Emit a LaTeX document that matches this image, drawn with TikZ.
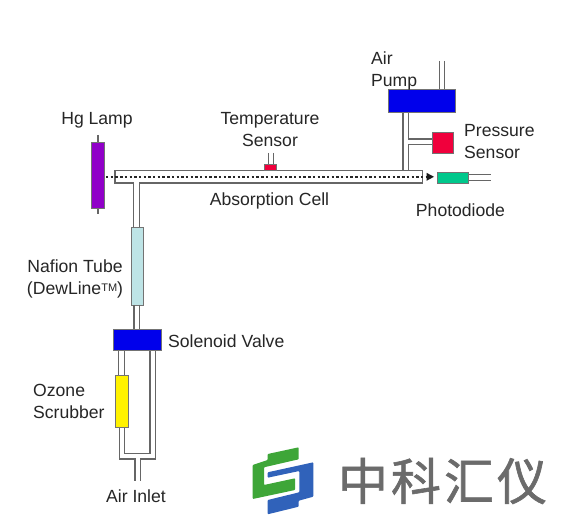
\documentclass[tikz,border=0pt]{standalone}
\usepackage{fontspec}
\setmainfont{Liberation Sans}
\newfontfamily\cjkfont[FakeBold=1.2]{Noto Sans CJK SC}
\usepackage{xcolor}
\usetikzlibrary{arrows.meta}
\definecolor{lampviolet}{RGB}{144,0,200}
\definecolor{sensorred}{RGB}{240,0,60}
\definecolor{diodegreen}{RGB}{0,200,140}
\definecolor{nafionblue}{RGB}{190,228,230}
\definecolor{pumpblue}{RGB}{0,0,235}
\definecolor{logogreen}{RGB}{62,166,56}
\definecolor{logoblue}{RGB}{48,98,186}

\begin{document}
\begin{tikzpicture}[
    x=1pt, y=-1pt,
    font=\fontsize{17.6}{22}\selectfont,
    label/.style={text=black!85, inner sep=0pt, align=center},
    tube/.style={draw=black!60, line width=1.2pt},
    part/.style={draw=black!55, line width=0.8pt}
]
    \useasboundingbox[fill=white] (0, 0) rectangle (568, 529);

    % Absorption cell with the outlet stub to the Nafion tube
    \draw[tube, fill=white] (133.7, 227.7) -- (133.7, 183) -- (115, 183) -- (115, 170.7) --
        (422.7, 170.7) -- (422.7, 183) -- (139.3, 183) -- (139.3, 227.7);

    % Optical path through the cell
    \draw[black!85, line width=2.4pt, dash pattern=on 2.4pt off 2.3pt] (106, 176.8) -- (428, 176.8);
    \fill[black!90] (426.5, 172.8) -- (434, 176.8) -- (426.5, 180.8) -- cycle;

    % Hg lamp
    \draw[tube] (98, 135) -- (98, 214);
    \filldraw[part, fill=lampviolet] (91.3, 142.7) rectangle (104.7, 208);
    \node[label] (lamplabel) at (97, 120) {Hg Lamp};

    % Temperature sensor on top of the cell
    \draw[tube, line width=0.9pt] (268, 153) -- (268, 165) (273.5, 153) -- (273.5, 165);
    \filldraw[part, fill=sensorred] (264.5, 164.5) rectangle (276.5, 170.7);
    \node[label] (templabel) at (270, 130) {Temperature\\Sensor};
    \node[label] (celllabel) at (269.5, 201) {Absorption Cell};

    % Air pump with exhaust and lines to the cell
    \draw[tube] (439.5, 61) -- (439.5, 90) (444.7, 61) -- (444.7, 90);
    \draw[tube] (403, 112) -- (403, 170.7);
    \draw[tube] (408.7, 112) -- (408.7, 139) -- (432, 139);
    \draw[tube] (432, 144.7) -- (408.7, 144.7) -- (408.7, 170.7);
    \filldraw[part, fill=pumpblue] (388, 89.5) rectangle (455, 112.7);
    \node[label, align=left, anchor=west] (pumplabel) at (371, 71) {Air\\Pump};

    % Pressure sensor
    \filldraw[part, fill=sensorred] (432, 132.7) rectangle (453, 153);
    \node[label, align=left, anchor=west] (presslabel) at (464, 142) {Pressure\\Sensor};

    % Photodiode
    \draw[tube, line width=0.9pt] (468, 174.3) -- (490.7, 174.3) (468, 180.3) -- (490.7, 180.3);
    \filldraw[part, fill=diodegreen] (437, 172) rectangle (468, 183.7);
    \node[label] (diodelabel) at (460.5, 210) {Photodiode};

    % Nafion tube
    \filldraw[part, fill=nafionblue] (131.3, 227.7) rectangle (143.3, 305);
    \draw[tube] (134, 305) -- (134, 329) (139.5, 305) -- (139.5, 329);
    \node[label] (nafionlabel) at (75, 279) {Nafion Tube\\(DewLine{\fontsize{11}{11}\selectfont\raisebox{3.5pt}{TM}})};

    % Solenoid valve and the two branches down to the inlet
    \draw[tube] (118.7, 350) -- (118.7, 375.3) (124.3, 350) -- (124.3, 375.3);
    \draw[tube] (119.3, 427.3) -- (119.3, 459) -- (135, 459) -- (135, 481);
    \draw[tube] (124.7, 427.3) -- (124.7, 453.3) -- (150, 453.3) -- (150, 350);
    \draw[tube] (155.7, 350) -- (155.7, 459) -- (140.7, 459) -- (140.7, 481);
    \filldraw[part, fill=pumpblue] (113, 329) rectangle (161.3, 350.7);
    \node[label, anchor=west] (valvelabel) at (168, 341) {Solenoid Valve};

    % Ozone scrubber
    \filldraw[part, fill=yellow] (115.7, 375.3) rectangle (128.3, 427.3);
    \node[label, align=left, anchor=west] (scrubberlabel) at (33, 401) {Ozone\\Scrubber};
    \node[label] (inletlabel) at (136, 496) {Air Inlet};

    % Logo
    \fill[logogreen, rounded corners=0.8pt] (252.7, 465) -- (267.7, 460) -- (267.7, 454) -- (298.7, 447.3) --
        (298.7, 459.3) -- (264, 467.3) -- (264, 485) -- (295, 478.3) -- (295, 490) -- (252.7, 499) -- cycle;
    \fill[logoblue, rounded corners=0.8pt] (267.7, 472.3) -- (313.3, 462.3) -- (313.3, 496.7) -- (298.7, 500.7) --
        (298.7, 506.7) -- (267.7, 514.3) -- (267.7, 500) -- (299.3, 492.3) -- (299.3, 471) -- (267.7, 477.7) -- cycle;
    \node[font=\fontsize{50}{50}\selectfont\cjkfont, text=black!58, inner sep=0pt, anchor=center] (logotext) at (442.5, 481)
        {中\hspace{3pt}科\hspace{3pt}汇\hspace{3pt}仪};
\end{tikzpicture}
\end{document}
